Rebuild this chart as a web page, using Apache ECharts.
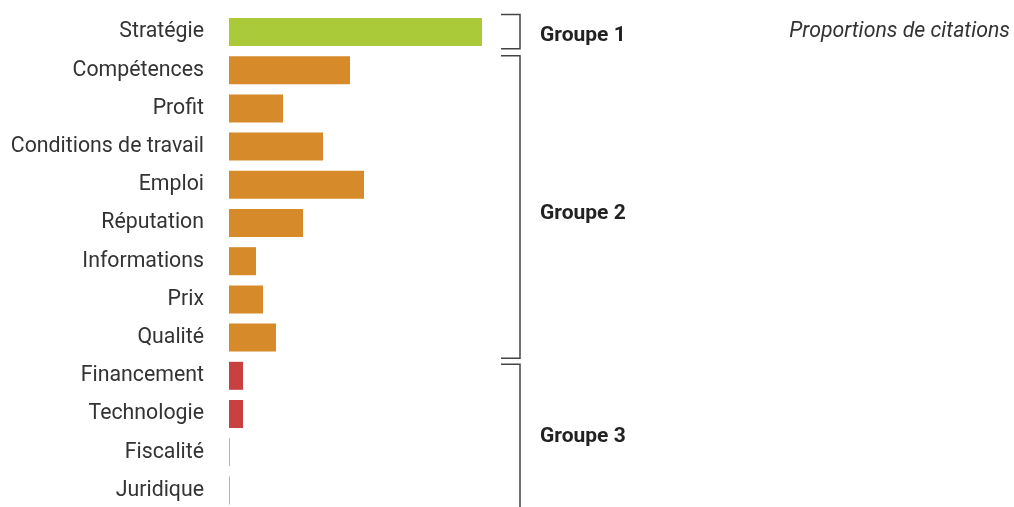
<!DOCTYPE html>
<html><head><meta charset="utf-8">
<script src="https://cdn.jsdelivr.net/npm/echarts@6/dist/echarts.min.js"></script>
<style>html,body{margin:0;padding:0;background:#fff}#c{width:1014px;height:507px}</style>
</head><body><div id="c"></div>
<script>
const categories = ['Stratégie','Compétences','Profit','Conditions de travail','Emploi','Réputation','Informations','Prix','Qualité','Financement','Technologie','Fiscalité','Juridique'];
const values = [25.3, 12.1, 5.4, 9.4, 13.5, 7.4, 2.7, 3.4, 4.7, 1.4, 1.4, 0.05, 0.05];
const groupOf = [1,2,2,2,2,2,2,2,2,3,3,3,3];
const groupNames = ['Groupe 1','Groupe 2','Groupe 3'];
const groupFrom = [0,1,9];
const groupTo = [0,8,12];

const groupColors = {1:'#aaca3a', 2:'#d68a29', 3:'#c84040'};
// bracket styling offsets (px) relative to row boundaries
const bracketStyle = [
  {topOff:1.6, botOff:-2.4, labelOff:3.5, open:false},
  {topOff:4.6, botOff:1.6, labelOff:10, open:false},
  {topOff:7.6, botOff:0, labelOff:4, open:true}
];
const chart = echarts.init(document.getElementById('c'));
const font = 'Roboto, "Noto Sans", sans-serif';
const gridTop = 12.9, gridH = 38.2*13;
chart.setOption({
  animation:false,
  grid:{left:229, top:gridTop, width:253, height:gridH, outerBoundsMode:'none', containLabel:false},
  xAxis:{type:'value', min:0, max:25.3, show:false},
  yAxis:{type:'category', data:categories, inverse:true,
    axisLine:{show:false}, axisTick:{show:false},
    axisLabel:{color:'#333', fontSize:21.3, fontFamily:font, margin:25}},
  series:[{type:'bar', barWidth:28,
    data: values.map((v,i)=>({value:v, itemStyle:{color:groupColors[groupOf[i]]}}))}]
});
function drawBrackets(){
  const els = [];
  const c = i => chart.convertToPixel({yAxisIndex:0}, categories[i]);
  const half = gridH/13/2;
  const xv = 520, xl = 501;
  groupNames.forEach((name, gi) => {
    const s = bracketStyle[gi];
    const top = c(groupFrom[gi]) - half + s.topOff;
    const bot = s.open ? 530 : c(groupTo[gi]) + half + s.botOff;
    els.push({type:'polyline', shape:{points: s.open ? [[xl,top],[xv,top],[xv,bot]] : [[xl,top],[xv,top],[xv,bot],[xl,bot]]},
      style:{stroke:'#444', lineWidth:1.5, fill:null}});
    const mid = (c(groupFrom[gi]) + c(groupTo[gi]))/2 + s.labelOff;
    els.push({type:'text', x:540, y:mid, style:{text:name, fontSize:21, fontWeight:'bold', fontFamily:font, fill:'#222', verticalAlign:'middle'}});
  });
  els.push({type:'text', x:1010, y:32, style:{text:'Proportions de citations', fontSize:21.3, fontStyle:'italic', fontFamily:font, fill:'#333', align:'right', verticalAlign:'middle'}});
  chart.setOption({graphic:els});
}
drawBrackets();
</script></body></html>
